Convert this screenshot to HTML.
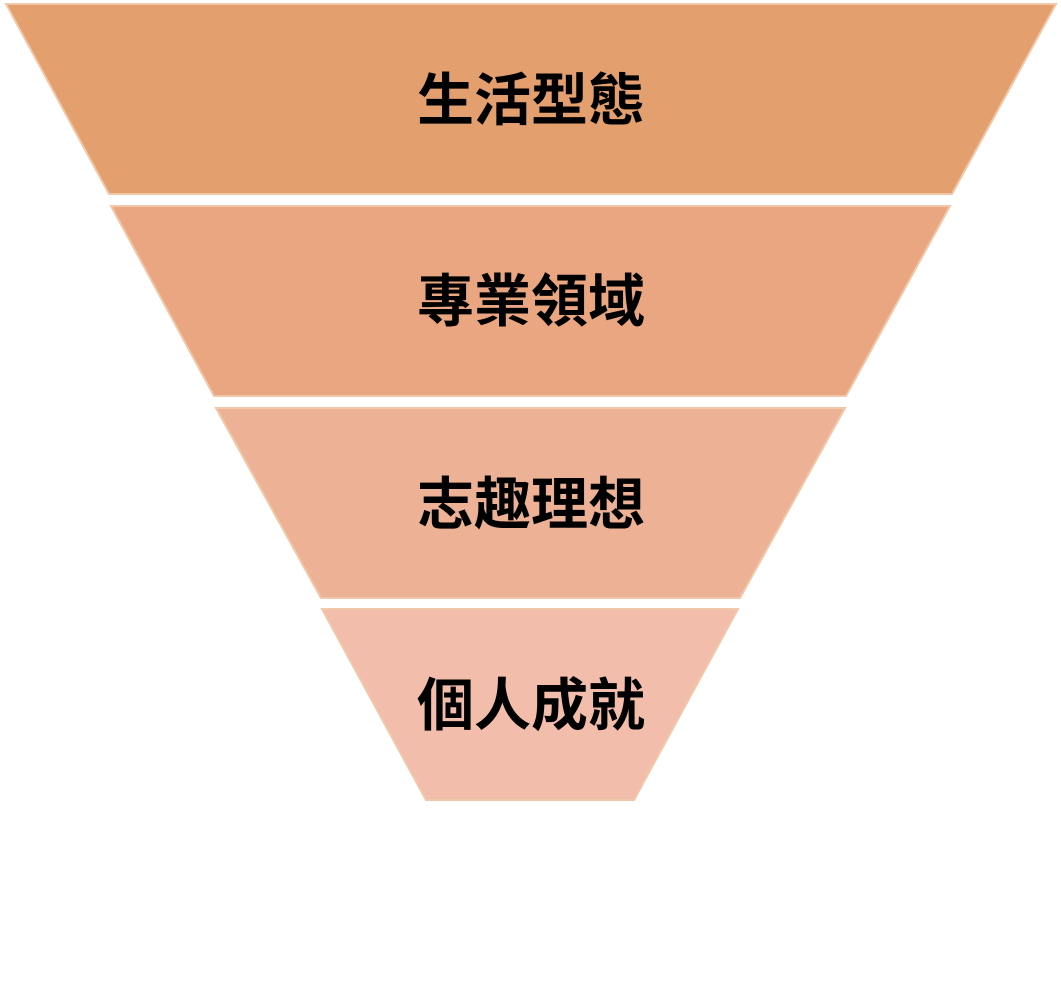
<!DOCTYPE html>
<html><head><meta charset="utf-8"><style>
body{margin:0;background:#fff;width:1061px;height:977px;overflow:hidden}
text{font-family:"Liberation Sans","Noto Sans CJK TC",sans-serif;font-weight:bold;font-size:57px;fill:#000}
</style></head><body>
<svg width="1061" height="977" xmlns="http://www.w3.org/2000/svg">
<g stroke="#f0c8a8" stroke-width="2">
<polygon points="6,4 1056,4 952,194 109,194" fill="#e49f6f"/>
<polygon points="111,206 950,206 846,396 214,396" fill="#e9a681"/>
<polygon points="216,408 845,408 740,598 321,598" fill="#edb196"/>
<polygon points="322,609 738,609 634,800 426,800" fill="#f3bdab"/>
</g>
<text x="531" y="120" text-anchor="middle">生活型態</text>
<text x="531" y="321" text-anchor="middle">專業領域</text>
<text x="531" y="524" text-anchor="middle">志趣理想</text>
<text x="531" y="725" text-anchor="middle">個人成就</text>
</svg>
</body></html>
